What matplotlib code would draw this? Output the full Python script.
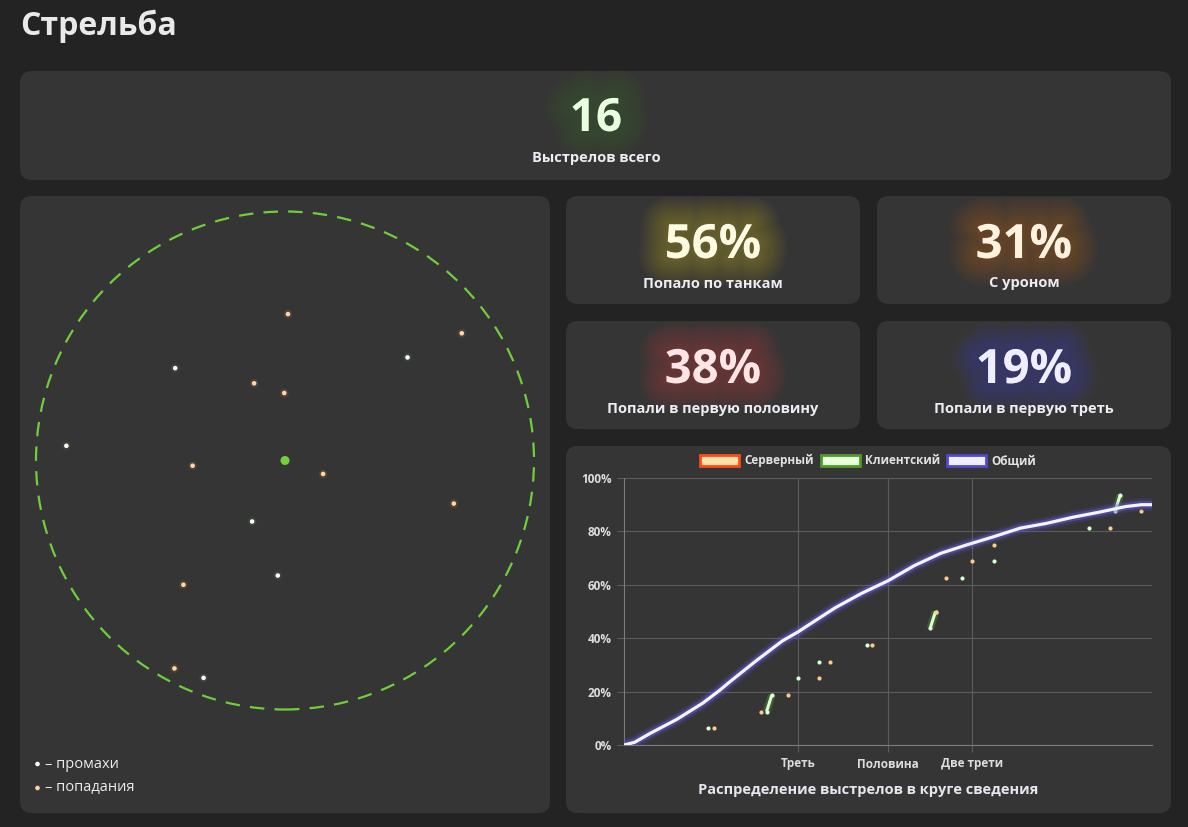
import numpy as np
import matplotlib.pyplot as plt
import matplotlib.patheffects as pe
from matplotlib.patches import FancyBboxPatch, Circle, Patch

plt.rcParams['font.family'] = ['Open Sans', 'DejaVu Sans']

BG = '#232323'
PANEL = '#353535'

# shots inside the aiming circle (units of circle radius, y up)
hit_x = [0.012, 0.710, -0.124, -0.003, -0.371, 0.153, 0.678, -0.408, -0.444]
hit_y = [0.588, 0.511, 0.310, 0.271, -0.021, -0.054, -0.173, -0.499, -0.835]
miss_x = [-0.441, 0.492, -0.878, -0.132, -0.029, -0.327]
miss_y = [0.371, 0.414, 0.059, -0.245, -0.462, -0.873]

total_shots = 16
stat_values = ['56%', '31%', '38%', '19%']
stat_labels = ['Попало по танкам', 'С уроном', 'Попали в первую половину', 'Попали в первую треть']
stat_colors = ['#fffbe2', '#fff3df', '#ffe5e5', '#eeeeff']
stat_glows = ['#d6c02c', '#d27a22', '#d83838', '#5a5ae0']

# distribution chart: x = bin of distance in circle (0..100), y = percent
bins_total = [0, 2, 5, 10, 15, 18, 20, 25, 30, 33, 35, 40, 45, 50, 55, 60, 65, 70, 75, 80, 85, 90, 95, 98, 100]
pct_total = [0, 1, 4.4, 9.6, 15.8, 20.3, 23.6, 31.5, 39, 42.4, 45, 51.4, 56.8, 61.5, 67.2, 71.8, 75, 78, 81.2, 83, 85.3, 87.2, 89.3, 90, 90]
bins_client = [16, 27, 28, 33, 37, 46, 58, 59, 64, 70, 88, 93, 94]
pct_client = [6.25, 12.5, 18.75, 25, 31.25, 37.5, 43.75, 50, 62.5, 68.75, 81.25, 87.5, 93.75]
bins_server = [17, 26, 31, 37, 39, 47, 59, 61, 66, 70, 92, 98]
pct_server = [6.25, 12.5, 18.75, 25, 31.25, 37.5, 50, 62.5, 68.75, 75, 81.25, 87.5]
tick_bins = [33, 50, 66]
tick_names = ['Треть', 'Половина', 'Две трети']

W, H = 1188, 827
fig = plt.figure(figsize=(W / 100, H / 100), dpi=100, facecolor=BG)
bg = fig.add_axes([0, 0, 1, 1], zorder=0)
bg.set_xlim(0, W)
bg.set_ylim(H, 0)
bg.axis('off')


def panel(x0, y0, x1, y1):
    bg.add_patch(FancyBboxPatch((x0, y0), x1 - x0, y1 - y0,
                                boxstyle='round,pad=0,rounding_size=12',
                                fc=PANEL, ec='none'))


def axes_at(x0, y0, x1, y1):
    return fig.add_axes([x0 / W, 1 - y1 / H, (x1 - x0) / W, (y1 - y0) / H])


def glow(color, alpha=0.028, maxw=40):
    widths = np.linspace(maxw, 4, 14)
    return [pe.Stroke(linewidth=w, foreground=color, alpha=alpha) for w in widths] + [pe.Normal()]


bg.text(20, 35, 'Стрельба', fontsize=23, fontweight='bold', color='#e9e9e9', va='baseline')

# total shots
panel(20, 71, 1171, 180)
bg.text(596, 131, str(total_shots), fontsize=33, fontweight='bold', color='#eaffe2',
        ha='center', va='baseline', path_effects=glow('#4ea030', alpha=0.018))
bg.text(596, 162, 'Выстрелов всего', fontsize=10.5, fontweight='bold', color='#ececf2',
        ha='center', va='baseline')

# stat tiles
tiles = [(566, 196, 860, 304), (877, 196, 1171, 304), (566, 321, 860, 429), (877, 321, 1171, 429)]
for (x0, y0, x1, y1), val, lab, col, gl in zip(tiles, stat_values, stat_labels, stat_colors, stat_glows):
    panel(x0, y0, x1, y1)
    cx = (x0 + x1) / 2
    bg.text(cx, y0 + 62, val, fontsize=34, fontweight='bold', color=col,
            ha='center', va='baseline', path_effects=glow(gl))
    bg.text(cx, y0 + 91.5, lab, fontsize=10.5, fontweight='bold', color='#ececf2',
            ha='center', va='baseline')

# scatter of shots
panel(20, 196, 550, 813)
sc = axes_at(20, 196, 550, 813)
R, cx0, cy0 = 249, 285, 460.5
sc.set_xlim((20 - cx0) / R, (550 - cx0) / R)
sc.set_ylim((cy0 - 813) / R, (cy0 - 196) / R)
sc.axis('off')
sc.add_patch(Circle((0, 0), 1, fill=False, ec='#6fcf3a', lw=1.6, ls=(0, (6.5, 4.6))))
sc.scatter([0], [0], s=42, color='#72d13e', edgecolors='none', zorder=3)
sc.scatter(hit_x, hit_y, s=40, color='#ff9a40', alpha=0.12, edgecolors='none')
sc.scatter(hit_x, hit_y, s=11, color='#ffd6a0', edgecolors='none', zorder=3)
sc.scatter(miss_x, miss_y, s=40, color='#c8ffc8', alpha=0.06, edgecolors='none')
sc.scatter(miss_x, miss_y, s=11, color='#f2fff0', edgecolors='none', zorder=3)

bg.scatter([37.5], [764], s=11, color='#f2fff0', edgecolors='none')
bg.scatter([37.5], [788], s=11, color='#ffd6a0', edgecolors='none')
bg.text(45, 764, '– промахи', fontsize=10.5, color='#ececec', va='center')
bg.text(45, 788, '– попадания', fontsize=10.5, color='#ececec', va='center')

# distribution chart
panel(566, 446, 1171, 813)
ax = axes_at(624, 478, 1152, 745)
ax.set_facecolor('none')
ax.set_xlim(0, 100)
ax.set_ylim(0, 100)

ax.plot(bins_total, pct_total, color='#f5f3ff', lw=2.3, solid_capstyle='round', zorder=4,
        path_effects=[pe.Stroke(linewidth=9, foreground='#5b4fe0', alpha=0.18),
                      pe.Stroke(linewidth=5.5, foreground='#6a60f0', alpha=0.4),
                      pe.Normal()])

client_line = np.full(101, np.nan)
client_line[bins_client] = pct_client
ax.plot(np.arange(101), client_line, color='#dcffd0', lw=2.2, solid_capstyle='butt', zorder=3,
        path_effects=[pe.Stroke(linewidth=5.5, foreground='#58b030', alpha=0.3), pe.Normal()])
ax.plot(bins_client, pct_client, ls='none', marker='o', ms=3.0, mfc='#d8ffd8', mec='none', zorder=3)
ax.plot(bins_server, pct_server, ls='none', marker='o', ms=3.0, mfc='#ffcc88', mec='none', zorder=3)

ax.set_yticks(range(0, 101, 20))
ax.set_yticklabels([f'{v}%' for v in range(0, 101, 20)])
ax.set_xticks(tick_bins)
ax.set_xticklabels(tick_names)
ax.grid(True, color='#5c5c5c', lw=0.8)
ax.set_axisbelow(True)
for s in ['top', 'right']:
    ax.spines[s].set_visible(False)
for s in ['left', 'bottom']:
    ax.spines[s].set_color('#7c7c7c')
ax.tick_params(colors='#dcdcdc', labelsize=8.5, length=5, pad=4)
ax.tick_params(color='#5c5c5c')
for lab in ax.get_xticklabels() + ax.get_yticklabels():
    lab.set_fontweight('bold')

handles = [Patch(fc='#ffe0a6', ec='#ff4a17', lw=2, label='Серверный'),
           Patch(fc='#e8ffdc', ec='#4f9a2a', lw=2, label='Клиентский'),
           Patch(fc='#eeeeff', ec='#5548d0', lw=2, label='Общий')]
ax.legend(handles=handles, loc='center', bbox_to_anchor=(0.462, 1.064), ncol=3, frameon=False,
          prop={'size': 8.5, 'weight': 'bold'}, labelcolor='#e2e2e2',
          handlelength=3.3, handleheight=1.0, handletextpad=0.45, columnspacing=0.6)

bg.text(868, 794, 'Распределение выстрелов в круге сведения', ha='center', va='baseline',
        fontsize=10.5, fontweight='bold', color='#e6e6ee')

fig.savefig('out.png', dpi=100, facecolor=BG)
